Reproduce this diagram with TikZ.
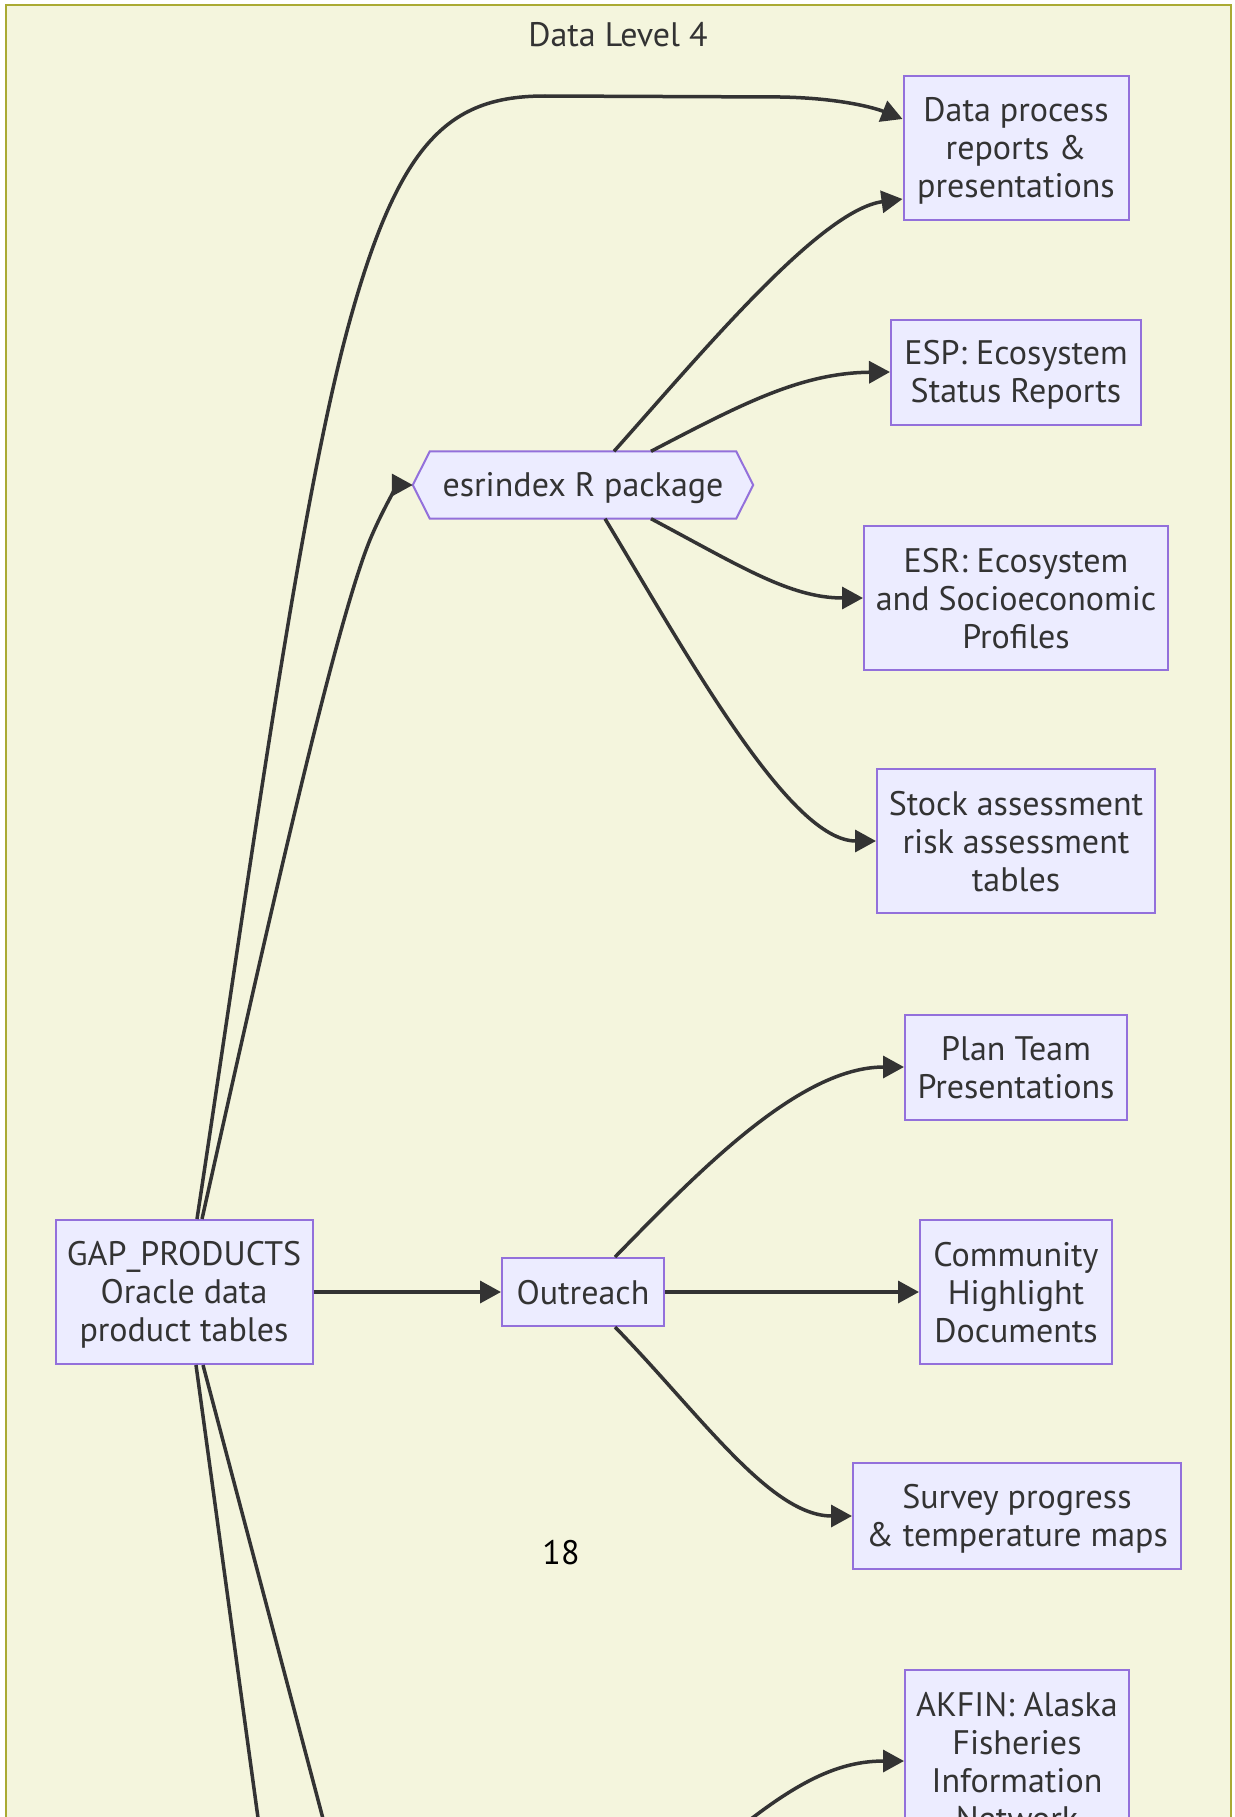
\documentclass[tikz,border=0pt]{standalone}
\usepackage{fontspec}
\setmainfont{PT Sans}
\usetikzlibrary{arrows.meta}
\pgfdeclarelayer{background}
\pgfsetlayers{background,main}
\definecolor{nodefill}{HTML}{ECECFF}
\definecolor{nodeline}{HTML}{9370DB}
\definecolor{clusterfill}{RGB}{244,245,221}
\definecolor{clusterline}{HTML}{AAAA33}
\definecolor{txt}{HTML}{333333}
\definecolor{edgecol}{HTML}{333333}
\newcommand\lstrut{\rule[-5pt]{0pt}{35pt}}
\begin{document}
\begin{tikzpicture}[x=1pt,y=-1pt,
  nfont/.style={font=\fontsize{34}{38}\selectfont},
  box/.style={draw=nodeline, fill=nodefill, line width=2pt, text=txt, align=center, inner sep=0pt, nfont},
  hexbox/.style={text=txt, align=center, inner sep=0pt, nfont},
  link/.style={draw=edgecol, line width=3.5pt, -{Triangle[length=21pt,width=22pt]}},
  plainlink/.style={draw=edgecol, line width=3.5pt},
]
\useasboundingbox (0,0) rectangle (1234,1817);
\clip (0,0) rectangle (1234,1817);

% nodes
\node[box, minimum width=225pt, minimum height=143pt] (dp) at (1016,148) {\lstrut Data process\\\lstrut reports \&\\\lstrut presentations};
\node[box, minimum width=250pt, minimum height=105pt] (esp) at (1016,372) {\lstrut ESP: Ecosystem\\\lstrut Status Reports};
\node[hexbox, minimum width=340pt, minimum height=67pt] (esr) at (583,485) {\lstrut esrindex R package};
\node[box, minimum width=304pt, minimum height=144pt] (espf) at (1016,598) {\lstrut ESR: Ecosystem\\\lstrut and Socioeconomic\\\lstrut Profiles};
\node[box, minimum width=278pt, minimum height=144pt] (stock) at (1016,841) {\lstrut Stock assessment\\\lstrut risk assessment\\\lstrut tables};
\node[box, minimum width=222pt, minimum height=105pt] (plan) at (1016,1067) {\lstrut Plan Team\\\lstrut Presentations};
\node[box, minimum width=192pt, minimum height=144pt] (comm) at (1016,1292) {\lstrut Community\\\lstrut Highlight\\\lstrut Documents};
\node[box, minimum width=328pt, minimum height=106pt] (survey) at (1017,1516) {\lstrut Survey progress\\\lstrut \& temperature maps};
\node[box, minimum width=224pt, minimum height=182pt] (akfin) at (1017,1761) {\lstrut AKFIN: Alaska\\\lstrut Fisheries\\\lstrut Information\\\lstrut Network};
\node[box, minimum width=257pt, minimum height=144pt] (gap) at (184,1292) {\lstrut GAP\_PRODUCTS\\\lstrut Oracle data\\\lstrut product tables};
\node[box, minimum width=162pt, minimum height=68pt] (out) at (583,1292) {\lstrut Outreach};

\node[text=txt, nfont] (title) at (618,35) {Data Level 4};
\node[text=black, nfont] (lbl) at (561,1553) {18};

\coordinate (down1) at (272,1920);
\coordinate (down2) at (349,1917);
\coordinate (akin) at (690,1870);

\begin{pgfonlayer}{background}
\draw[fill=clusterfill, draw=clusterline, line width=2pt] (5.5,5.5) rectangle (1231,1950);
\draw[fill=nodefill, draw=nodeline, line width=2pt]
  (esr.west) -- ([xshift=17pt]esr.north west) -- ([xshift=-17pt]esr.north east) -- (esr.east)
  -- ([xshift=-17pt]esr.south east) -- ([xshift=17pt]esr.south west) -- cycle;
\end{pgfonlayer}

% edges
\draw[link] ([xshift=13pt]gap.north) .. controls (250,870) and (300,500) .. (350,320)
  .. controls (400,140) and (450,96) .. (545,96) -- (780,97)
  .. controls (840,98) and (875,108) .. ([yshift=29pt]dp.west);
\draw[link] ([xshift=18pt]gap.north) .. controls (260,960) and (335,620) .. (372,535)
  .. controls (390,494) and (400,485) .. (esr.west);
\draw[link] ([xshift=31pt]esr.north) .. controls (700,355) and (820,210) .. ([yshift=-51pt]dp.west);
\draw[link] ([xshift=68pt]esr.north) .. controls (740,405) and (800,373) .. (esp.west);
\draw[link] ([xshift=68pt]esr.south) .. controls (740,566) and (790,598) .. (espf.west);
\draw[link] ([xshift=22pt]esr.south) .. controls (690,660) and (790,841) .. (stock.west);
\draw[link] (gap.east) -- (out.west);
\draw[link] ([xshift=32pt]out.north) .. controls (700,1170) and (800,1067) .. (plan.west);
\draw[link] (out.east) -- (comm.west);
\draw[link] ([xshift=32pt]out.south) .. controls (700,1414) and (770,1516) .. (survey.west);
\draw[plainlink] ([xshift=12pt]gap.south) -- (down1);
\draw[plainlink] ([xshift=19pt]gap.south) -- (down2);
\draw[link] (akin) .. controls (780,1790) and (830,1761) .. (akfin.west);
\end{tikzpicture}
\end{document}
